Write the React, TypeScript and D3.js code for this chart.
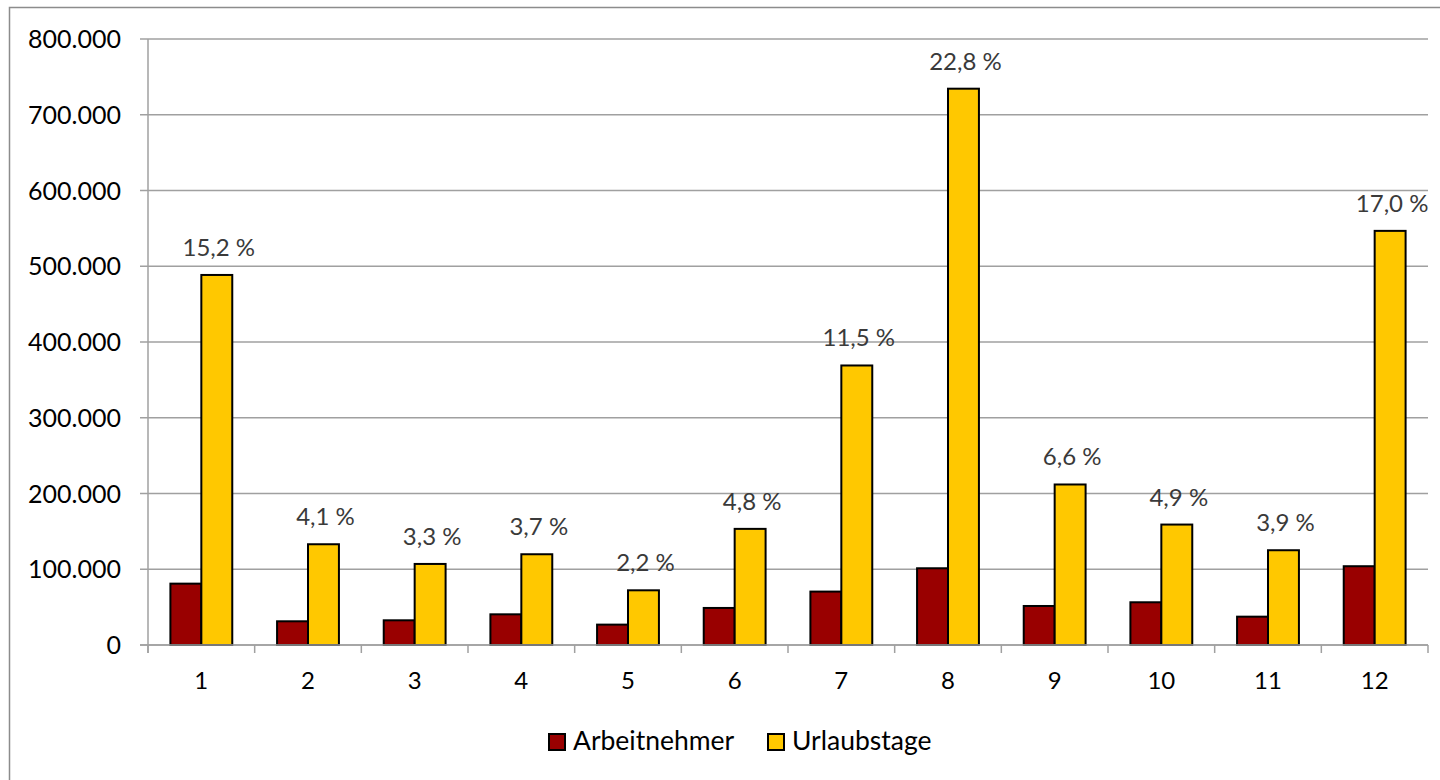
import * as React from "react";
import * as d3 from "d3";
import { useEffect, useRef } from "react";

// Monate 1..12
const categories = ["1", "2", "3", "4", "5", "6", "7", "8", "9", "10", "11", "12"];
const seriesNames = ["Arbeitnehmer", "Urlaubstage"];
const arbeitnehmer = [81000, 31300, 32600, 40500, 26900, 48900, 70500, 101300, 51500, 56400, 37400, 104000];
const urlaubstage = [488500, 133000, 107000, 119800, 72200, 153300, 369000, 734400, 211900, 159000, 125100, 546700];
const shareLabels = ["15,2 %", "4,1 %", "3,3 %", "3,7 %", "2,2 %", "4,8 %", "11,5 %", "22,8 %", "6,6 %", "4,9 %", "3,9 %", "17,0 %"];
const yTicks = [0, 100000, 200000, 300000, 400000, 500000, 600000, 700000, 800000];
const colors = ["#990000", "#FFC800"];

const W = 1440;
const H = 780;
const FONT = "Lato, 'Noto Sans', sans-serif";

function drawChart(svgRef: React.RefObject<SVGSVGElement>) {
  const svg = d3.select(svgRef.current);
  svg.selectAll("*").remove();

  const left = 148;
  const right = 1428;
  const top = 39;
  const bottom = 645;

  const de = d3.formatLocale({ decimal: ",", thousands: ".", grouping: [3], currency: ["", " €"] });
  const fmt = de.format(",");

  const x0 = d3.scaleBand().domain(categories).range([left, right]).paddingInner(0.42).paddingOuter(0.21);
  const x1 = d3.scaleBand().domain(seriesNames).range([0, x0.bandwidth()]);
  const y = d3.scaleLinear().domain([0, 800000]).range([bottom, top]);

  // outer chart frame
  svg
    .append("rect")
    .attr("x", 9.5)
    .attr("y", 7.5)
    .attr("width", W)
    .attr("height", H)
    .attr("fill", "white")
    .attr("stroke", "#8c8c8c")
    .attr("stroke-width", 1.5);

  // gridlines + y ticks
  svg
    .append("g")
    .selectAll("line")
    .data(yTicks)
    .enter()
    .append("line")
    .attr("x1", left - 8)
    .attr("x2", right)
    .attr("y1", (d) => y(d))
    .attr("y2", (d) => y(d))
    .attr("stroke", "#a0a0a0")
    .attr("stroke-width", 1.5);

  svg
    .append("g")
    .selectAll("text")
    .data(yTicks)
    .enter()
    .append("text")
    .attr("x", 121)
    .attr("y", (d) => y(d) + 9)
    .attr("text-anchor", "end")
    .attr("font-family", FONT)
    .attr("font-size", 25)
    .attr("fill", "#000")
    .text((d) => fmt(d));

  // bars
  const rows = categories.map((c, i) => ({ cat: c, vals: [arbeitnehmer[i], urlaubstage[i]] }));
  const groups = svg
    .append("g")
    .selectAll("g")
    .data(rows)
    .enter()
    .append("g")
    .attr("transform", (d) => `translate(${x0(d.cat)}, 0)`);

  groups
    .selectAll("rect")
    .data((d) => d.vals.map((v, k) => ({ name: seriesNames[k], v, k })))
    .enter()
    .append("rect")
    .attr("x", (d) => x1(d.name)!)
    .attr("y", (d) => y(d.v))
    .attr("width", x1.bandwidth())
    .attr("height", (d) => bottom - y(d.v))
    .attr("fill", (d) => colors[d.k])
    .attr("stroke", "#000")
    .attr("stroke-width", 2);

  // share labels above Urlaubstage bars
  svg
    .append("g")
    .selectAll("text")
    .data(rows)
    .enter()
    .append("text")
    .attr("x", (d) => x0(d.cat)! + x1("Urlaubstage")! + x1.bandwidth() / 2 + 2)
    .attr("y", (d) => y(d.vals[1]) - 19)
    .attr("text-anchor", "middle")
    .attr("font-family", FONT)
    .attr("font-size", 24)
    .attr("fill", "#3a3a3a")
    .text((d, i) => shareLabels[i]);

  // axes lines
  svg
    .append("line")
    .attr("x1", left)
    .attr("x2", left)
    .attr("y1", top)
    .attr("y2", bottom + 8)
    .attr("stroke", "#a0a0a0")
    .attr("stroke-width", 1.5);
  svg
    .append("line")
    .attr("x1", left - 8)
    .attr("x2", right)
    .attr("y1", bottom)
    .attr("y2", bottom)
    .attr("stroke", "#a0a0a0")
    .attr("stroke-width", 1.5);

  const step = x0.step();
  svg
    .append("g")
    .selectAll("line")
    .data(d3.range(categories.length + 1))
    .enter()
    .append("line")
    .attr("x1", (i) => left + i * step)
    .attr("x2", (i) => left + i * step)
    .attr("y1", bottom)
    .attr("y2", bottom + 8)
    .attr("stroke", "#a0a0a0")
    .attr("stroke-width", 1.5);

  svg
    .append("g")
    .selectAll("text")
    .data(categories)
    .enter()
    .append("text")
    .attr("x", (d) => x0(d)! + x0.bandwidth() / 2)
    .attr("y", 689)
    .attr("text-anchor", "middle")
    .attr("font-family", FONT)
    .attr("font-size", 24)
    .attr("fill", "#000")
    .text((d) => d);

  // legend
  const legendX = [549, 768];
  const legend = svg
    .append("g")
    .selectAll("g")
    .data(seriesNames)
    .enter()
    .append("g")
    .attr("transform", (d, i) => `translate(${legendX[i]}, 734)`);
  legend
    .append("rect")
    .attr("width", 16)
    .attr("height", 16)
    .attr("fill", (d, i) => colors[i])
    .attr("stroke", "#000")
    .attr("stroke-width", 2);
  legend
    .append("text")
    .attr("x", 24)
    .attr("y", 16)
    .attr("font-family", FONT)
    .attr("font-size", 26.5)
    .attr("fill", "#000")
    .text((d) => d);
}

export default function App() {
  const svg = useRef<SVGSVGElement>(null);
  useEffect(() => {
    drawChart(svg);
  }, []);
  return (
    <svg
      ref={svg}
      width={W}
      height={H}
      style={{ position: "absolute", left: 0, top: 0, background: "white" }}
    />
  );
}
